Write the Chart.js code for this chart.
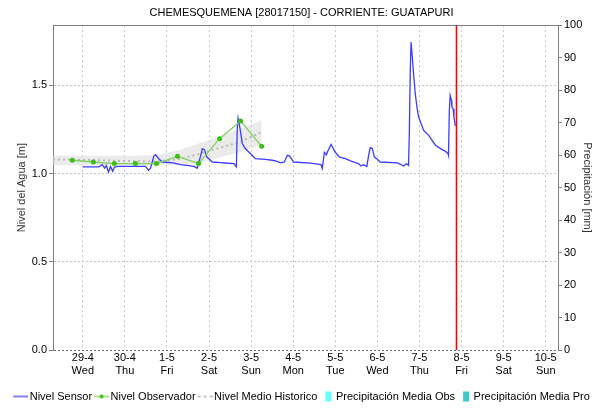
<!DOCTYPE html>
<html>
<head>
<meta charset="utf-8">
<script src="https://cdn.jsdelivr.net/npm/chart.js@4.4.1/dist/chart.umd.min.js"></script>
<style>
  html, body { margin: 0; padding: 0; background: #fff; }
  #wrap { width: 603px; height: 412px; }
</style>
</head>
<body>
<div id="wrap"><canvas id="chart" width="603" height="412"></canvas></div>
<script>
// Datos de la estacion (tiempo en dias desde 29-4 00:00)
const dayLabels = ['29-4', '30-4', '1-5', '2-5', '3-5', '4-5', '5-5', '6-5', '7-5', '8-5', '9-5', '10-5'];
const weekLabels = ['Wed', 'Thu', 'Fri', 'Sat', 'Sun', 'Mon', 'Tue', 'Wed', 'Thu', 'Fri', 'Sat', 'Sun'];

const X_MIN = -0.708;
const X_MAX = 11.292;
const NOW_T = 8.88;

// Nivel Sensor
const sensorT = [0.00, 0.38, 0.46, 0.52, 0.56, 0.61, 0.66, 0.71, 0.75, 0.82, 1.49, 1.56, 1.61, 1.69, 1.73,
  1.80, 1.89, 2.15, 2.32, 2.48, 2.64, 2.72, 2.80, 2.84, 2.89, 2.95, 3.08, 3.27, 3.46, 3.59,
  3.65, 3.67, 3.69, 3.72, 3.79, 3.86, 3.98, 4.10, 4.34, 4.50, 4.60, 4.70, 4.79, 4.86, 4.91,
  5.01, 5.41, 5.66, 5.69, 5.74, 5.79, 5.81, 5.90, 6.00, 6.10, 6.24, 6.36, 6.48, 6.55, 6.61,
  6.67, 6.75, 6.79, 6.83, 6.88, 6.93, 7.00, 7.07, 7.47, 7.55, 7.62, 7.69, 7.74, 7.76, 7.78,
  7.80, 7.83, 7.86, 7.90, 7.94, 7.98, 8.04, 8.10, 8.22, 8.30, 8.38, 8.50, 8.61, 8.68, 8.69,
  8.71, 8.73, 8.76, 8.77, 8.80, 8.82, 8.85];
const sensorV = [1.037, 1.037, 1.05, 1.03, 1.045, 1.008, 1.04, 1.012, 1.035, 1.04, 1.04, 1.018, 1.03, 1.10, 1.107,
  1.085, 1.065, 1.06, 1.05, 1.046, 1.04, 1.03, 1.10, 1.14, 1.135, 1.093, 1.065, 1.062, 1.058, 1.056,
  1.037, 1.25, 1.314, 1.28, 1.17, 1.141, 1.113, 1.084, 1.08, 1.075, 1.07, 1.06, 1.065, 1.103, 1.10,
  1.065, 1.059, 1.05, 1.028, 1.12, 1.105, 1.12, 1.165, 1.12, 1.093, 1.084, 1.071, 1.061, 1.056, 1.042,
  1.05, 1.04, 1.10, 1.146, 1.141, 1.093, 1.08, 1.065, 1.06, 1.052, 1.042, 1.055, 1.046, 1.235, 1.565,
  1.744, 1.66, 1.565, 1.452, 1.376, 1.32, 1.282, 1.244, 1.216, 1.188, 1.16, 1.141, 1.127, 1.112, 1.103,
  1.357, 1.442, 1.414, 1.376, 1.367, 1.32, 1.27];

// Nivel Observador
const obsT = [-0.25, 0.25, 0.75, 1.25, 1.75, 2.25, 2.75, 3.25, 3.75, 4.25];
const obsV = [1.075, 1.065, 1.056, 1.056, 1.056, 1.097, 1.056, 1.197, 1.297, 1.154];

// Nivel Medio Historico (media y banda)
const histT = [-0.708, -0.25, 0.25, 0.75, 1.25, 1.75, 2.25, 2.75, 3.25, 3.75, 4.25];
const histV = [1.078, 1.078, 1.076, 1.073, 1.07, 1.068, 1.08, 1.11, 1.145, 1.18, 1.235];
const histHi = [1.10, 1.10, 1.10, 1.10, 1.10, 1.105, 1.13, 1.17, 1.21, 1.255, 1.30];
const histLo = [1.046, 1.046, 1.046, 1.046, 1.046, 1.046, 1.05, 1.06, 1.09, 1.12, 1.165];

// Precipitacion (sin datos en el periodo)
const precipObs = [];
const precipPro = [];

const levelTicks = [0, 0.5, 1.0, 1.5];
const LEVEL_MAX = 1.84;

const COLORS = {
  sensor: '#3c3cff',
  obsLine: '#80d060',
  obsPoint: '#3cbf14',
  hist: '#b4b4b4',
  band: 'rgba(215,215,215,0.5)',
  now: '#ff0000',
  precipObs: '#66ffff',
  precipPro: '#40c8c8',
  axis: '#808080',
  grid: '#c4c4c4'
};

const FONT = "'Liberation Sans', Arial, sans-serif";
Chart.defaults.font.family = FONT;
Chart.defaults.font.size = 11;
Chart.defaults.color = '#000';

function pts(t, v) {
  return t.map((x, i) => ({ x: x, y: v[i] }));
}

// iconos de la leyenda
function makeIcon(kind, color) {
  const c = document.createElement('canvas');
  c.width = 19;
  c.height = 12;
  const g = c.getContext('2d');
  if (kind === 'box') {
    g.fillStyle = color;
    g.fillRect(10, 1, 6, 10);
    return c;
  }
  g.strokeStyle = color;
  g.lineWidth = kind === 'dash' ? 1.5 : 1.3;
  if (kind === 'dash') g.setLineDash([3, 3]);
  g.beginPath();
  g.moveTo(4, 6);
  g.lineTo(19, 6);
  g.stroke();
  if (kind === 'dot') {
    g.fillStyle = COLORS.obsPoint;
    g.beginPath();
    g.arc(11.5, 6, 2, 0, Math.PI * 2);
    g.fill();
  }
  return c;
}

const legendItems = [
  { text: 'Nivel Sensor', icon: makeIcon('line', COLORS.sensor) },
  { text: 'Nivel Observador', icon: makeIcon('dot', COLORS.obsLine) },
  { text: 'Nivel Medio Historico', icon: makeIcon('dash', COLORS.hist) },
  { text: 'Precipitación Media Obs', icon: makeIcon('box', COLORS.precipObs) },
  { text: 'Precipitación Media Pro', icon: makeIcon('box', COLORS.precipPro) }
];

const ctx = document.getElementById('chart').getContext('2d');
new Chart(ctx, {
  type: 'line',
  data: {
    datasets: [
      {
        label: 'Ahora',
        data: [{ x: NOW_T, y: 0 }, { x: NOW_T, y: LEVEL_MAX }],
        borderColor: COLORS.now,
        borderWidth: 1.6,
        pointRadius: 0,
        order: 0
      },
      {
        label: 'Nivel Observador',
        data: pts(obsT, obsV),
        borderColor: COLORS.obsLine,
        borderWidth: 1.3,
        pointRadius: 2.5,
        pointBackgroundColor: COLORS.obsPoint,
        pointBorderColor: COLORS.obsPoint,
        pointBorderWidth: 0,
        order: 1
      },
      {
        label: 'Nivel Sensor',
        data: pts(sensorT, sensorV),
        borderColor: COLORS.sensor,
        borderWidth: 1.3,
        pointRadius: 0,
        order: 2
      },
      {
        label: 'Nivel Medio Historico',
        data: pts(histT, histV),
        borderColor: COLORS.hist,
        borderWidth: 1.8,
        borderDash: [2, 3],
        pointRadius: 0,
        order: 3
      },
      {
        label: 'banda alta',
        data: pts(histT, histHi),
        borderWidth: 0,
        pointRadius: 0,
        backgroundColor: COLORS.band,
        fill: '+1',
        order: 4
      },
      {
        label: 'banda baja',
        data: pts(histT, histLo),
        borderWidth: 0,
        pointRadius: 0,
        order: 5
      },
      {
        type: 'bar',
        label: 'Precipitación Media Obs',
        data: precipObs,
        backgroundColor: COLORS.precipObs,
        yAxisID: 'y2',
        order: 6
      },
      {
        type: 'bar',
        label: 'Precipitación Media Pro',
        data: precipPro,
        backgroundColor: COLORS.precipPro,
        yAxisID: 'y2',
        order: 7
      }
    ]
  },
  options: {
    responsive: false,
    animation: false,
    layout: { padding: 0 },
    plugins: {
      tooltip: { enabled: false },
      title: {
        display: true,
        text: 'CHEMESQUEMENA [28017150] - CORRIENTE: GUATAPURI',
        color: '#000',
        font: { size: 11, weight: 'normal' },
        padding: { top: 6, bottom: 6 }
      },
      legend: {
        position: 'bottom',
        labels: {
          usePointStyle: true,
          pointStyleWidth: 11,
          boxHeight: 11,
          padding: 2,
          color: '#000',
          font: { size: 11 },
          generateLabels: () => legendItems.map((it, i) => ({
            text: it.text,
            pointStyle: it.icon,
            datasetIndex: i,
            hidden: false,
            lineWidth: 0,
            strokeStyle: 'transparent',
            fillStyle: 'transparent'
          }))
        },
        onClick: null
      }
    },
    scales: {
      x: {
        type: 'linear',
        min: X_MIN,
        max: X_MAX,
        offset: false,
        afterBuildTicks: (scale) => {
          scale.ticks = dayLabels.map((d, i) => ({ value: i }));
        },
        afterFit: (scale) => { scale.height = 39; },
        ticks: {
          autoSkip: false,
          maxRotation: 0,
          padding: 1,
          color: '#000',
          font: { size: 11 },
          callback: (v) => [dayLabels[v], weekLabels[v]]
        },
        grid: { color: COLORS.grid, drawTicks: false, offset: false },
        border: { display: false, dash: [2, 3] }
      },
      xTop: {
        type: 'linear',
        position: 'top',
        min: X_MIN,
        max: X_MAX,
        offset: false,
        ticks: { display: false },
        grid: { display: false, offset: false },
        border: { color: COLORS.axis },
        afterFit: (scale) => { scale.height = 0; }
      },
      y: {
        position: 'left',
        min: 0,
        max: LEVEL_MAX,
        afterBuildTicks: (scale) => {
          scale.ticks = levelTicks.map((v) => ({ value: v }));
        },
        afterFit: (scale) => { scale.width = 53; },
        ticks: {
          padding: 2,
          color: '#000',
          font: { size: 11 },
          callback: (v) => v.toFixed(1)
        },
        grid: {
          color: (c) => (c.tick && c.tick.value === 0 ? '#707070' : COLORS.grid),
          tickLength: 4,
          tickColor: COLORS.axis,
          tickBorderDash: []
        },
        border: { color: COLORS.axis, dash: [2, 2] },
        title: {
          display: true,
          text: 'Nivel del Agua [m]',
          color: '#333',
          font: { size: 11 },
          padding: { top: 15, bottom: 0 }
        }
      },
      y2: {
        position: 'right',
        min: 0,
        max: 100,
        afterFit: (scale) => { scale.width = 45; },
        ticks: {
          stepSize: 10,
          padding: 2,
          color: '#000',
          font: { size: 11 }
        },
        grid: {
          drawOnChartArea: false,
          tickLength: 4,
          tickColor: COLORS.axis
        },
        border: { color: COLORS.axis },
        title: {
          display: true,
          text: 'Precipitación [mm]',
          color: '#333',
          font: { size: 11 },
          padding: { top: 9, bottom: 0 }
        }
      }
    }
  }
});
</script>
</body>
</html>
